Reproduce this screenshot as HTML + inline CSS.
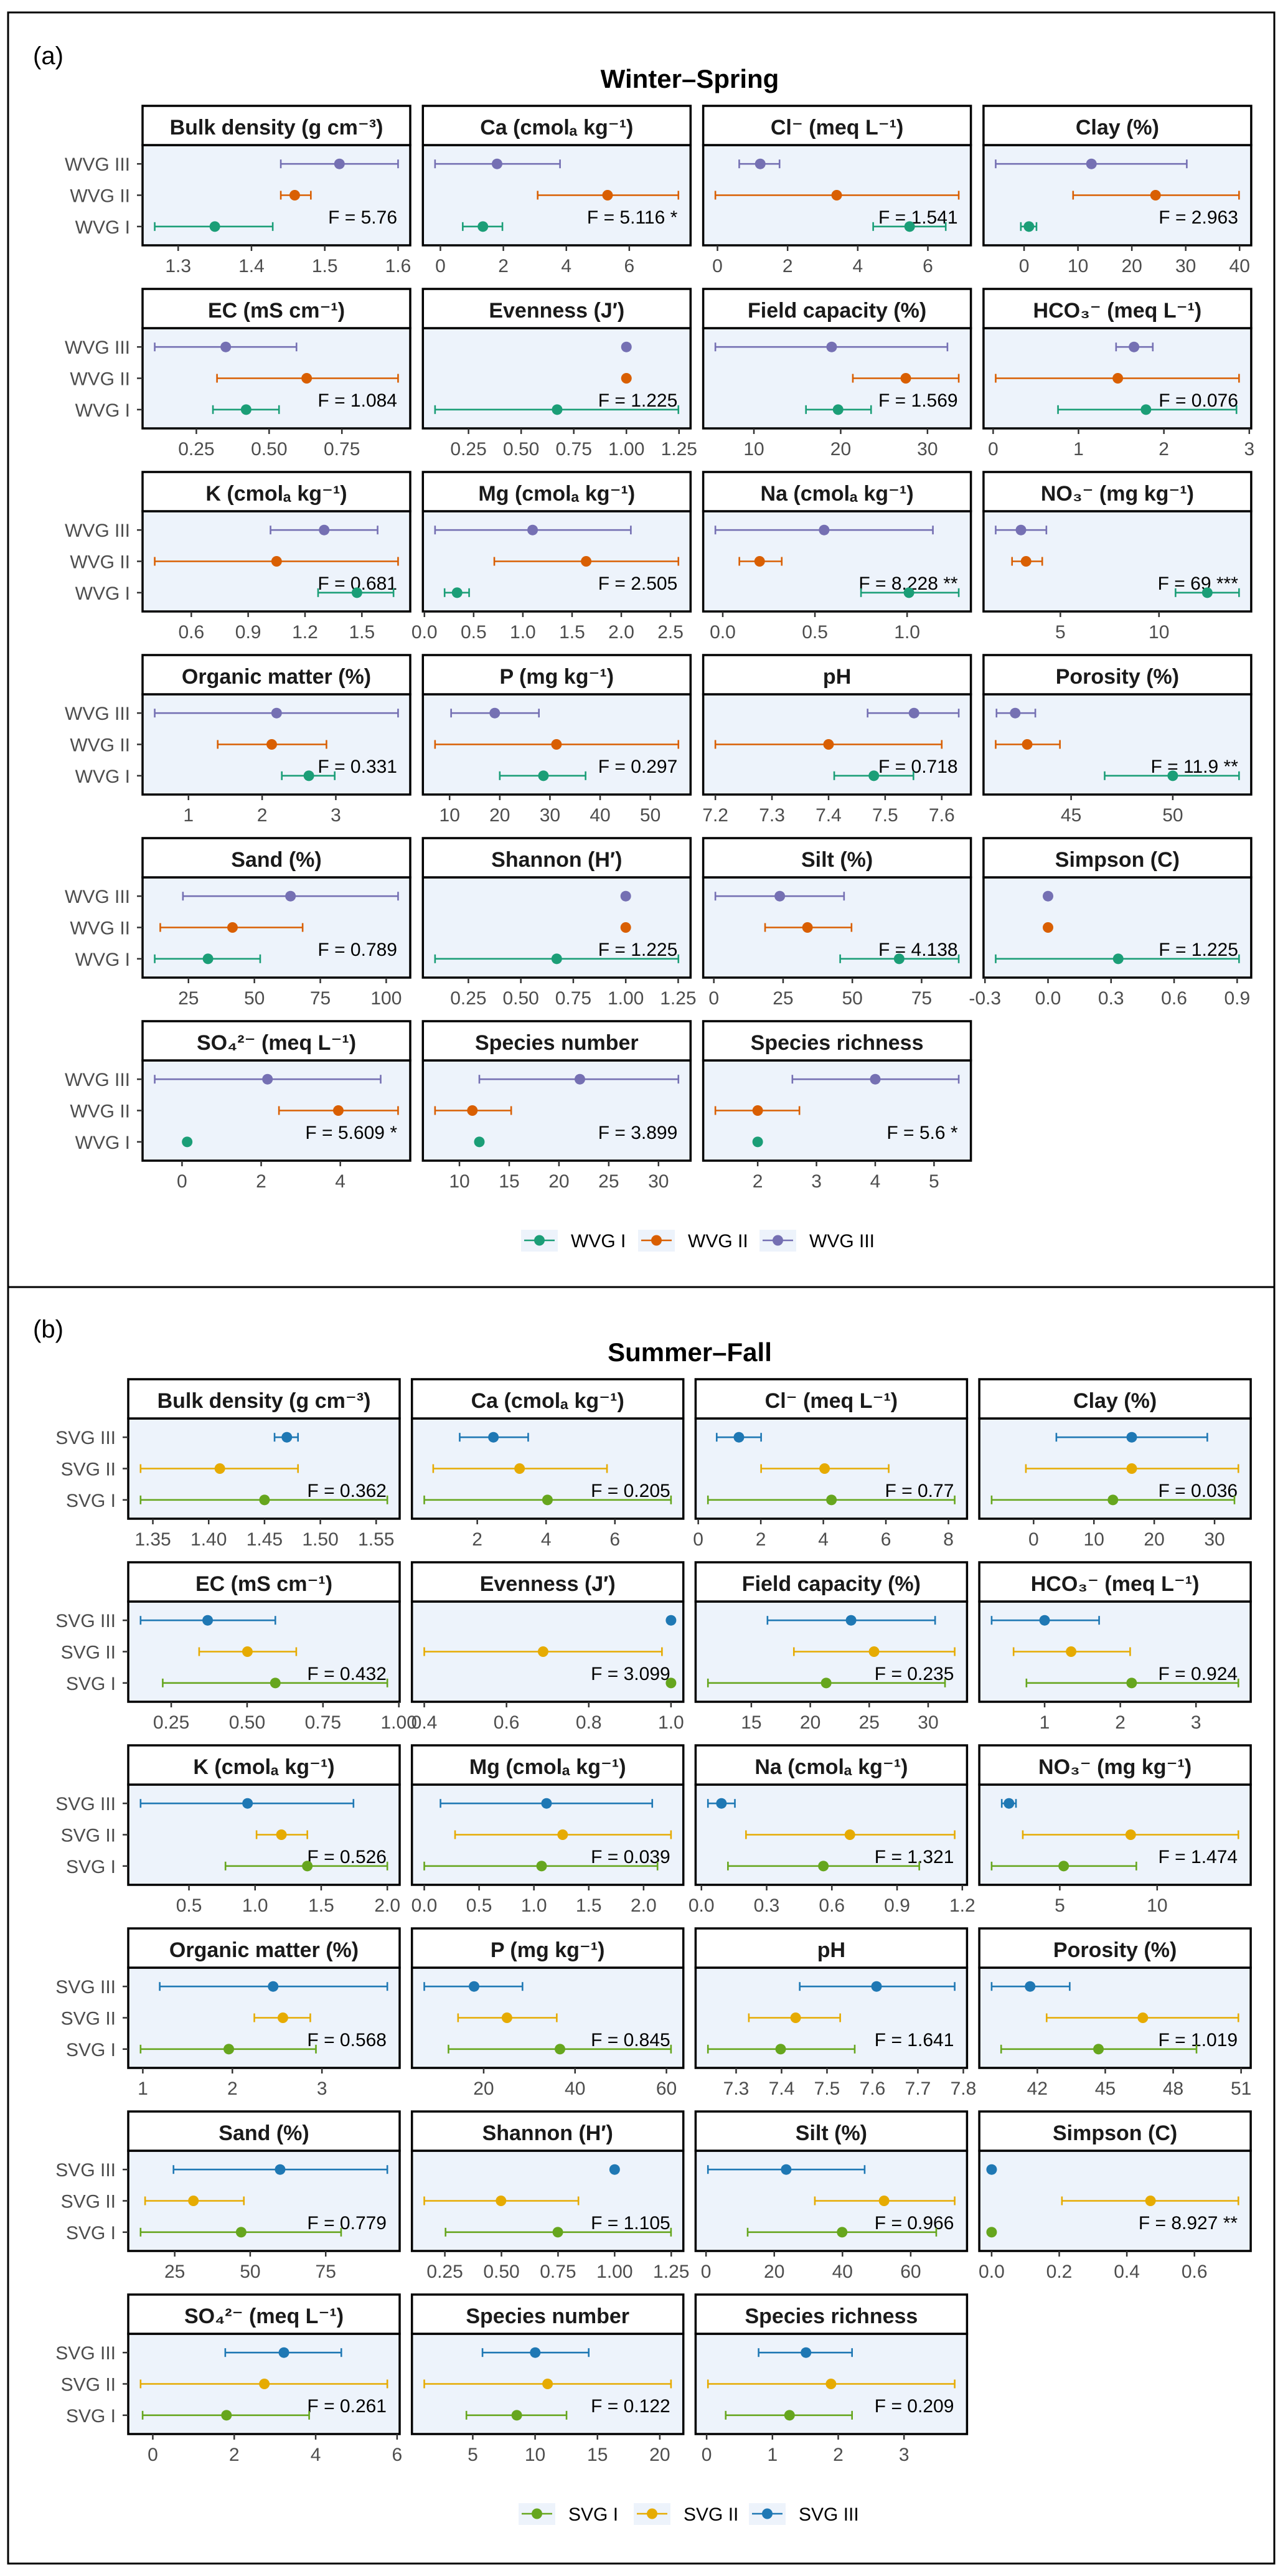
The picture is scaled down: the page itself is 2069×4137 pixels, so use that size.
<!DOCTYPE html>
<html><head><meta charset="utf-8">
<style>
html,body{margin:0;padding:0;background:#fff;}
svg{display:block;font-family:"Liberation Sans","DejaVu Sans",sans-serif;}
</style></head>
<body>
<svg id="fig" xmlns="http://www.w3.org/2000/svg" width="2069" height="4137" viewBox="0 0 2069 4137">
<rect x="0" y="0" width="2069" height="4137" fill="#fff"/>
</svg>
<script>
// ---------- shared panel info ----------
const panelTitles = ["Bulk density (g cm⁻³)","Ca (cmolₐ kg⁻¹)","Cl⁻ (meq L⁻¹)","Clay (%)","EC (mS cm⁻¹)","Evenness (J′)","Field capacity (%)","HCO₃⁻ (meq L⁻¹)","K (cmolₐ kg⁻¹)","Mg (cmolₐ kg⁻¹)","Na (cmolₐ kg⁻¹)","NO₃⁻ (mg kg⁻¹)","Organic matter (%)","P (mg kg⁻¹)","pH","Porosity (%)","Sand (%)","Shannon (H′)","Silt (%)","Simpson (C)","SO₄²⁻ (meq L⁻¹)","Species number","Species richness"];

// ---------- Winter-Spring (a) ----------
const aGroups = ["WVG I","WVG II","WVG III"];
const aLoI   = [1.268,0.71,4.44,-0.6,0.307,0.091,16.0,0.76,1.269,0.205,0.75,10.84,2.267,20.0,7.41,46.65,12.2,0.091,45.6,-0.249,0.13,12,2];
const aMeanI = [1.350,1.35,5.48,0.9,0.421,0.671,19.7,1.79,1.474,0.332,1.01,12.45,2.634,28.7,7.48,50.0,32.4,0.671,66.9,0.334,0.13,12,2];
const aHiI   = [1.429,1.97,6.51,2.3,0.534,1.247,23.5,2.85,1.667,0.454,1.28,14.06,2.985,37.1,7.55,53.26,52.2,1.251,88.4,0.909,0.13,12,2];
const aLoII  = [1.440,3.09,-0.06,9.1,0.321,1,21.4,0.03,0.407,0.710,0.09,2.55,1.397,7.1,7.2,41.29,14.3,1,18.5,0,2.45,7.55,1.28];
const aMeanII= [1.459,5.31,3.40,24.4,0.629,1,27.5,1.46,1.050,1.643,0.20,3.26,2.130,31.3,7.4,42.84,41.7,1,33.8,0,3.95,11.3,2.0];
const aHiII  = [1.481,7.56,6.88,39.9,0.943,1,33.6,2.88,1.691,2.580,0.32,4.08,2.873,55.6,7.6,44.45,68.3,1,49.7,0,5.46,15.2,2.71];
const aLoIII = [1.440,-0.17,0.62,-5.27,0.107,1,5.56,1.44,1.018,0.108,-0.04,1.72,0.542,10.3,7.469,41.33,22.9,1,0.55,0,-0.69,12.0,2.59];
const aMeanIII=[1.520,1.80,1.22,12.5,0.351,1,18.96,1.65,1.301,1.099,0.55,3.0,2.196,19.0,7.551,42.25,63.7,1,23.8,0,2.16,22.1,4.0];
const aHiIII = [1.600,3.80,1.77,30.2,0.594,1,32.3,1.87,1.583,2.097,1.14,4.29,3.845,27.8,7.63,43.24,104.5,1,47.0,0,5.02,32.0,5.42];
const aFLabels = ["F = 5.76","F = 5.116 *","F = 1.541","F = 2.963","F = 1.084","F = 1.225","F = 1.569","F = 0.076","F = 0.681","F = 2.505","F = 8.228 **","F = 69 ***","F = 0.331","F = 0.297","F = 0.718","F = 11.9 **","F = 0.789","F = 1.225","F = 4.138","F = 1.225","F = 5.609 *","F = 3.899","F = 5.6 *"];
const aTicks = [["1.3","1.4","1.5","1.6"],["0","2","4","6"],["0","2","4","6"],["0","10","20","30","40"],["0.25","0.50","0.75"],["0.25","0.50","0.75","1.00","1.25"],["10","20","30"],["0","1","2","3"],["0.6","0.9","1.2","1.5"],["0.0","0.5","1.0","1.5","2.0","2.5"],["0.0","0.5","1.0"],["5","10"],["1","2","3"],["10","20","30","40","50"],["7.2","7.3","7.4","7.5","7.6"],["45","50"],["25","50","75","100"],["0.25","0.50","0.75","1.00","1.25"],["0","25","50","75"],["-0.3","0.0","0.3","0.6","0.9"],["0","2","4"],["10","15","20","25","30"],["2","3","4","5"]];

// ---------- Summer-Fall (b) ----------
const bGroups = ["SVG I","SVG II","SVG III"];
const bLoI   = [1.339,0.46,0.31,-6.96,0.222,1,11.32,0.76,0.776,0.0,0.122,1.5,0.975,12.3,7.238,40.4,13.7,0.253,12.2,0,-0.25,4.49,0.29];
const bMeanI = [1.450,4.04,4.26,13.15,0.593,1,21.35,2.15,1.395,1.07,0.561,5.2,1.96,36.7,7.398,44.7,47.0,0.749,39.9,0,1.81,8.53,1.26];
const bHiI   = [1.560,7.63,8.20,33.3,0.962,1,31.43,3.56,2.0,2.127,1.002,8.93,2.933,61.0,7.561,49.03,80.1,1.249,67.5,0,3.84,12.52,2.21];
const bLoII  = [1.339,0.72,2.01,-1.28,0.342,0.4,18.61,0.59,1.011,0.281,0.205,3.1,2.245,14.4,7.328,42.41,15.2,0.159,31.9,0.208,-0.30,1.11,0.02];
const bMeanII= [1.410,3.23,4.04,16.27,0.501,0.689,25.41,1.35,1.199,1.262,0.683,8.64,2.564,25.1,7.431,46.66,31.2,0.498,52.2,0.47,2.74,11.0,1.89];
const bHiII  = [1.480,5.77,6.09,33.95,0.662,0.978,32.25,2.13,1.395,2.25,1.165,14.17,2.87,36.0,7.529,50.88,47.9,0.84,72.9,0.73,5.76,20.9,3.77];
const bLoIII = [1.459,1.49,0.59,3.77,0.149,1,16.37,0.30,0.134,0.148,0.03,2.02,1.189,7.0,7.44,39.98,24.6,1,0.56,0,1.78,5.78,0.79];
const bMeanIII=[1.470,2.47,1.30,16.27,0.370,1,23.46,1.0,0.943,1.115,0.092,2.39,2.455,17.9,7.609,41.68,59.9,1,23.5,0,3.22,10.01,1.51];
const bHiIII = [1.480,3.48,2.01,28.8,0.593,1,30.59,1.72,1.744,2.079,0.154,2.75,3.73,28.5,7.781,43.43,95.4,1,46.5,0,4.63,14.3,2.21];
const bFLabels = ["F = 0.362","F = 0.205","F = 0.77","F = 0.036","F = 0.432","F = 3.099","F = 0.235","F = 0.924","F = 0.526","F = 0.039","F = 1.321","F = 1.474","F = 0.568","F = 0.845","F = 1.641","F = 1.019","F = 0.779","F = 1.105","F = 0.966","F = 8.927 **","F = 0.261","F = 0.122","F = 0.209"];
const bTicks = [["1.35","1.40","1.45","1.50","1.55"],["2","4","6"],["0","2","4","6","8"],["0","10","20","30"],["0.25","0.50","0.75","1.00"],["0.4","0.6","0.8","1.0"],["15","20","25","30"],["1","2","3"],["0.5","1.0","1.5","2.0"],["0.0","0.5","1.0","1.5","2.0"],["0.0","0.3","0.6","0.9","1.2"],["5","10"],["1","2","3"],["20","40","60"],["7.3","7.4","7.5","7.6","7.7","7.8"],["42","45","48","51"],["25","50","75"],["0.25","0.50","0.75","1.00","1.25"],["0","20","40","60"],["0.0","0.2","0.4","0.6"],["0","2","4","6"],["5","10","15","20"],["0","1","2","3"]];

const NS = "http://www.w3.org/2000/svg";
const svg = document.getElementById("fig");
function mk(tag, attrs, parent) {
  const e = document.createElementNS(NS, tag);
  for (const k in attrs) e.setAttribute(k, attrs[k]);
  (parent || svg).appendChild(e);
  return e;
}
function txt(str, attrs, parent) {
  const e = mk("text", attrs, parent);
  e.textContent = str;
  return e;
}

function drawSeason(cfg) {
  const S = cfg;
  const root = mk("g", {});
  
  
  // outer box
  const box = mk("rect", {x:13, y:cfg.boxTop, width:2034, height:cfg.boxH, fill:"none", stroke:"#000", "stroke-width":3}, root);
  
  
  const lab = txt(cfg.label, {x:53, y:cfg.off+103, "font-size":40, fill:"#000"}, root);
  
  
  const ttl = txt(cfg.title, {x:1108, y:cfg.off+141, "font-size":42, "font-weight":"bold", "text-anchor":"middle", fill:"#000"}, root);
  
  

  const lo = [S.loI, S.loII, S.loIII], me = [S.meI, S.meII, S.meIII], hi = [S.hiI, S.hiII, S.hiIII];
  for (let i = 0; i < 23; i++) {
    const r = Math.floor(i / 4), c = i % 4;
    const x0 = cfg.left0 + c * cfg.pitch, w = cfg.w;
    const top = cfg.off + 170 + r * 294;
    const pTop = top + 63, pBot = top + 224, pH = 161;
    const g = mk("g", {}, root);
    
    
    // domain
    let dmin = Infinity, dmax = -Infinity;
    for (let k = 0; k < 3; k++) { dmin = Math.min(dmin, lo[k][i], me[k][i]); dmax = Math.max(dmax, hi[k][i], me[k][i]); }
    const pad = (dmax - dmin) * 0.05; dmin -= pad; dmax += pad;
    const sx = v => x0 + (v - dmin) / (dmax - dmin) * w;
    const sy = k => pTop + pH * (3.6 - k) / 3.2;
    // plot background
    const bg = mk("rect", {x:x0, y:pTop, width:w, height:pH, fill:"#EDF3FB"}, g);
    
    
    // F label
    const fl = txt(S.F[i], {x:x0 + w - 21, y:pTop + 126, "font-size":30, "text-anchor":"end", fill:"#000"}, g);
    
    
    // series
    for (let k = 0; k < 3; k++) {
      const y = sy(k + 1), col = cfg.colors[k];
      const eg = mk("g", {}, g);
      
      
      const a = sx(lo[k][i]), b = sx(hi[k][i]);
      if (b - a > 0.5) {
        mk("line", {x1:a, y1:y, x2:b, y2:y, stroke:col, "stroke-width":2.6}, eg);
        mk("line", {x1:a, y1:y - 7, x2:a, y2:y + 7, stroke:col, "stroke-width":2.6}, eg);
        mk("line", {x1:b, y1:y - 7, x2:b, y2:y + 7, stroke:col, "stroke-width":2.6}, eg);
      }
      const pt = mk("circle", {cx:sx(me[k][i]), cy:y, r:8.5, fill:col}, eg);
      
      
    }
    // borders
    const pb = mk("rect", {x:x0, y:pTop, width:w, height:pH, fill:"none", stroke:"#000", "stroke-width":3.5}, g);
    
    
    const st = mk("rect", {x:x0, y:top, width:w, height:63, fill:"#fff", stroke:"#000", "stroke-width":3.5}, g);
    
    
    const stt = txt(panelTitles[i], {x:x0 + w / 2, y:top + 46, "font-size":34, "font-weight":"bold", "text-anchor":"middle", fill:"#1a1a1a"}, g);
    
    
    // x ticks
    const ticks = S.ticks[i];
    for (let t = 0; t < ticks.length; t++) {
      const tx = sx(parseFloat(ticks[t]));
      const tl = mk("line", {x1:tx, y1:pBot, x2:tx, y2:pBot + 9, stroke:"#333", "stroke-width":2.5}, g);
      
      
      const tt = txt(ticks[t], {x:tx, y:pBot + 43, "font-size":30, "text-anchor":"middle", fill:"#4d4d4d"}, g);
      
      
    }
    // y axis on first column
    if (c === 0) {
      for (let k = 0; k < 3; k++) {
        const y = sy(k + 1);
        const yt = mk("line", {x1:x0 - 9, y1:y, x2:x0, y2:y, stroke:"#333", "stroke-width":2.5}, g);
        
        
        const yl = txt(S.groups[k], {x:x0 - 20, y:y + 11, "font-size":30, "text-anchor":"end", fill:"#4d4d4d"}, g);
        
        
      }
    }
  }
  // legend
  const lg = mk("g", {}, root);
  
  
  const ly = cfg.off + 1992;
  for (let k = 0; k < 3; k++) {
    const kx = cfg.legKeys[k], col = cfg.colors[k];
    const ent = mk("g", {}, lg);
    
    
    mk("rect", {x:kx, y:ly - 17, width:59, height:35, fill:"#EDF3FB"}, ent);
    mk("line", {x1:kx + 5, y1:ly, x2:kx + 54, y2:ly, stroke:col, "stroke-width":2.6}, ent);
    mk("circle", {cx:kx + 29.5, cy:ly, r:8.5, fill:col}, ent);
    txt(S.groups[k], {x:kx + 80, y:ly + 11, "font-size":30, fill:"#000"}, ent);
  }
}

drawSeason({name:"winter-spring-panel", label:"(a)", title:"Winter–Spring", off:0, boxTop:20, boxH:2047,
  left0:229, pitch:450.3, w:430, colors:["#1B9E77","#D95F02","#7570B3"], groups:aGroups,
  loI:aLoI, meI:aMeanI, hiI:aHiI, loII:aLoII, meII:aMeanII, hiII:aHiII, loIII:aLoIII, meIII:aMeanIII, hiIII:aHiIII,
  F:aFLabels, ticks:aTicks, legKeys:[837,1025,1220]});
drawSeason({name:"summer-fall-panel", label:"(b)", title:"Summer–Fall", off:2045, boxTop:2067, boxH:2050,
  left0:206, pitch:455.7, w:436, colors:["#66A61E","#E6AB02","#1F78B4"], groups:bGroups,
  loI:bLoI, meI:bMeanI, hiI:bHiI, loII:bLoII, meII:bMeanII, hiII:bHiII, loIII:bLoIII, meIII:bMeanIII, hiIII:bHiIII,
  F:bFLabels, ticks:bTicks, legKeys:[833,1018,1203]});
</script>
</body></html>
